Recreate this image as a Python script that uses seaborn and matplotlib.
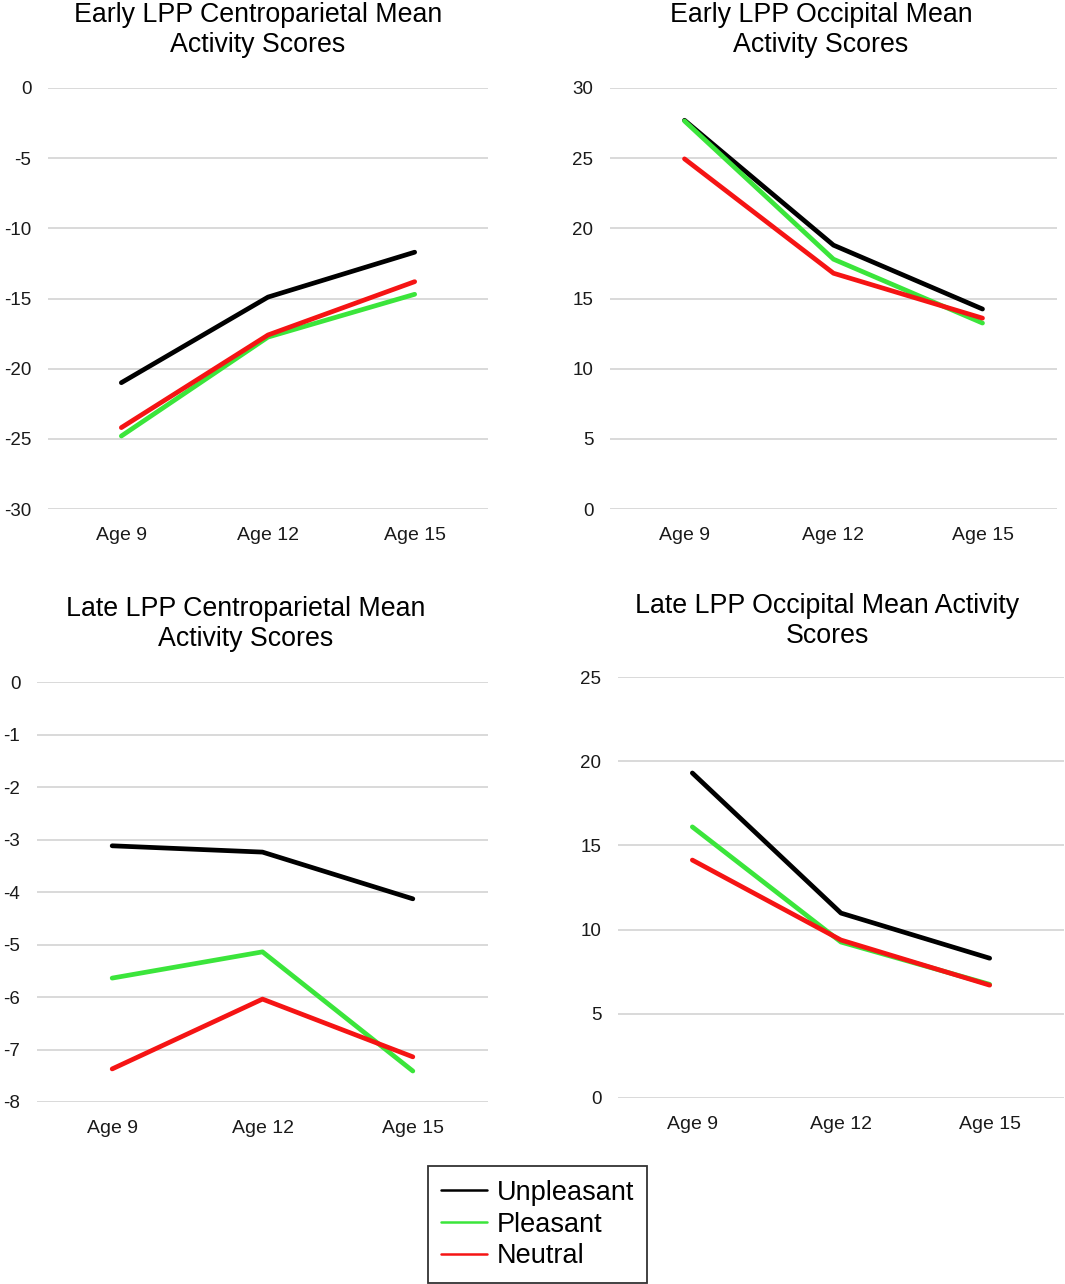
import numpy as np
import pandas as pd
import matplotlib
matplotlib.use("Agg")
import matplotlib.pyplot as plt
from matplotlib.lines import Line2D
import seaborn as sns

# values
ages = ["Age 9", "Age 12", "Age 15"]
conditions = ["Unpleasant", "Pleasant", "Neutral"]

early_cp_unpleasant = [-21.0, -14.9, -11.7]
early_cp_pleasant = [-24.8, -17.75, -14.7]
early_cp_neutral = [-24.2, -17.6, -13.8]

early_occ_unpleasant = [27.7, 18.8, 14.25]
early_occ_pleasant = [27.65, 17.8, 13.25]
early_occ_neutral = [24.95, 16.8, 13.6]

late_cp_unpleasant = [-3.12, -3.24, -4.13]
late_cp_pleasant = [-5.64, -5.14, -7.41]
late_cp_neutral = [-7.37, -6.04, -7.14]

late_occ_unpleasant = [19.3, 10.98, 8.3]
late_occ_pleasant = [16.1, 9.26, 6.75]
late_occ_neutral = [14.13, 9.38, 6.7]

titles = ["Early LPP Centroparietal Mean\nActivity Scores",
          "Early LPP Occipital Mean\nActivity Scores",
          "Late LPP Centroparietal Mean\nActivity Scores",
          "Late LPP Occipital Mean Activity\nScores"]
yticks = [np.arange(-30, 1, 5), np.arange(0, 31, 5),
          np.arange(-8, 1, 1), np.arange(0, 26, 5)]

colors = {"Unpleasant": "#000000", "Pleasant": "#3be53b", "Neutral": "#f51414"}


def long_df(unp, ple, neu):
    rows = []
    for cond, vals in zip(conditions, [unp, ple, neu]):
        for a, v in zip(ages, vals):
            rows.append({"age": a, "score": v, "condition": cond})
    return pd.DataFrame(rows)


panels = [long_df(early_cp_unpleasant, early_cp_pleasant, early_cp_neutral),
          long_df(early_occ_unpleasant, early_occ_pleasant, early_occ_neutral),
          long_df(late_cp_unpleasant, late_cp_pleasant, late_cp_neutral),
          long_df(late_occ_unpleasant, late_occ_pleasant, late_occ_neutral)]

sns.set_style("white")
plt.rcParams["font.family"] = ["Liberation Sans", "DejaVu Sans"]
plt.rcParams["text.color"] = "black"

W, H = 1065, 1284
fig = plt.figure(figsize=(W / 100, H / 100), dpi=100)

# axes boxes in pixels: left, right, top, bottom
boxes = [(48, 488, 88, 509), (610, 1057, 88, 509),
         (37, 488, 682, 1102), (618, 1064, 677, 1098)]
title_pos = [(258, 30), (821, 30), (246, 624), (827, 621)]

for i, (df, box) in enumerate(zip(panels, boxes)):
    l, r, t, b = box
    ax = fig.add_axes([l / W, 1 - b / H, (r - l) / W, (b - t) / H])
    sns.lineplot(data=df, x="age", y="score", hue="condition",
                 hue_order=conditions, palette=colors, linewidth=3.4,
                 sort=False, legend=False, ax=ax)
    ax.set_xlim(-0.5, 2.5)
    yt = yticks[i]
    ax.set_ylim(yt.min(), yt.max())
    ax.set_yticks(yt)
    ax.set_yticklabels([str(v) for v in yt])
    ax.grid(axis="y", color="#d9d9d9", linewidth=1.4)
    ax.set_axisbelow(True)
    for s in ax.spines.values():
        s.set_visible(False)
    ax.tick_params(axis="y", length=0, pad=12, labelsize=13.5, labelcolor="#1a1a1a")
    ax.tick_params(axis="x", length=0, pad=13, labelsize=14, labelcolor="#1a1a1a")
    ax.set_xlabel("")
    ax.set_ylabel("")
    for ln in ax.get_lines():
        ln.set_clip_on(False)
        ln.set_solid_capstyle("round")
    tx, ty = title_pos[i]
    fig.text(tx / W, 1 - ty / H, titles[i], ha="center", va="center",
             fontsize=19.3, linespacing=1.2, color="black")

handles = [Line2D([], [], color=colors[c], linewidth=1.8) for c in conditions]
leg = fig.legend(handles, conditions, loc="center",
                 bbox_to_anchor=(537.5 / W, 1 - 1224.5 / H),
                 fontsize=19.5, frameon=True, fancybox=False,
                 handlelength=1.7, handletextpad=0.35, labelspacing=0.22,
                 borderpad=0.5, borderaxespad=0)
leg.get_frame().set_edgecolor("black")
leg.get_frame().set_linewidth(1.3)
for txt in leg.get_texts():
    txt.set_color("black")

fig.savefig("out.png", dpi=100)
